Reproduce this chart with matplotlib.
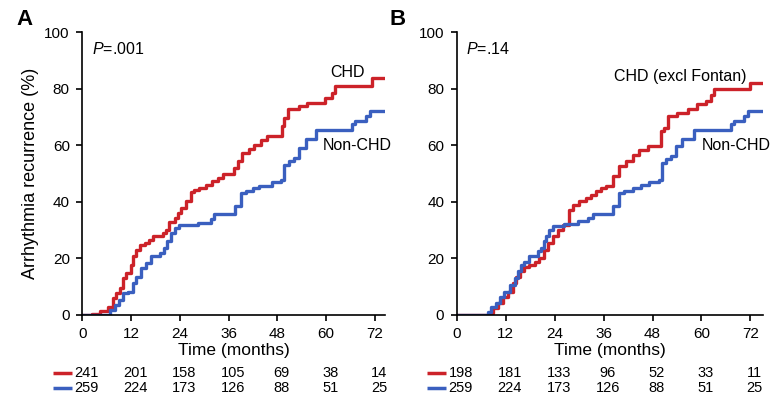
import numpy as np
import matplotlib
matplotlib.use("Agg")
from matplotlib import pyplot as plt
import matplotlib.transforms as mtransforms

plt.rcParams['font.family'] = ['Liberation Sans', 'DejaVu Sans']
plt.rcParams['mathtext.fontset'] = 'custom'
plt.rcParams['mathtext.it'] = 'Liberation Sans:italic'
plt.rcParams['mathtext.rm'] = 'Liberation Sans'

RED = '#cc2229'
BLUE = '#3a5fbf'

# panel A - CHD (months, % recurrence)
chd_a_t = [0, 2.5, 4.3, 6.3, 7.5, 8.4, 9.2, 10.0, 10.8, 12.0, 12.5, 13.3, 14.1, 15.3,
           16.5, 17.4, 19.0, 19.8, 20.6, 21.3, 22.7, 23.5, 24.3, 25.5, 26.8, 27.6,
           28.8, 30.4, 32.0, 33.3, 34.7, 37.4, 38.2, 39.4, 41.0, 42.3, 43.9, 45.5,
           49.2, 49.7, 50.5, 53.3, 55.3, 59.8, 61.5, 62.3, 71.3, 74.5]
chd_a_v = [0, 0.5, 1.4, 3.0, 6.0, 7.8, 9.6, 13.0, 15.0, 17.7, 20.7, 23.0, 24.8, 25.6,
           26.6, 27.8, 28.1, 29.0, 30.0, 33.0, 34.3, 36.0, 37.8, 40.2, 43.4, 44.3,
           44.9, 46.1, 47.3, 48.5, 50.0, 52.0, 54.5, 57.3, 58.8, 60.3, 62.0, 63.2,
           66.8, 69.7, 72.7, 73.9, 75.0, 76.8, 78.6, 81.0, 83.7, 83.7]

# panel A - Non-CHD
non_a_t = [0, 6.8, 8.0, 9.0, 10.0, 11.2, 12.5, 13.3, 14.5, 15.7, 17.0, 19.0, 20.2,
           20.8, 21.9, 22.7, 23.9, 28.4, 31.7, 32.5, 37.6, 39.0, 40.2, 41.9, 43.5,
           46.8, 48.8, 49.6, 50.9, 52.1, 53.3, 55.0, 57.4, 66.4, 67.2, 69.7, 70.9, 74.5]
non_a_v = [0, 1.8, 3.5, 5.3, 7.7, 8.3, 11.2, 13.6, 16.5, 18.3, 20.7, 21.9, 23.6,
           26.0, 29.0, 30.7, 31.9, 32.7, 33.9, 35.6, 38.4, 43.1, 43.7, 44.9, 45.7,
           46.9, 47.9, 53.2, 54.4, 55.6, 59.1, 62.1, 65.6, 67.4, 68.5, 70.3, 72.1, 72.1]

# panel B - CHD excluding Fontan
chd_b_t = [0, 8.1, 8.9, 10.1, 11.3, 12.5, 13.8, 14.6, 15.4, 16.6, 17.8, 19.1, 20.3,
           21.5, 22.3, 23.5, 24.8, 26.0, 27.6, 28.4, 30.1, 31.7, 32.9, 34.2, 35.4,
           36.5, 38.4, 39.9, 41.5, 43.1, 44.7, 46.8, 50.0, 50.9, 51.7, 54.1, 56.6,
           59.0, 61.0, 62.3, 63.1, 72.0, 75.0]
chd_b_v = [0, 0.6, 2.4, 4.1, 6.5, 8.3, 11.2, 13.6, 15.4, 17.1, 17.7, 18.9, 20.1,
           23.0, 25.4, 27.8, 30.1, 31.9, 37.2, 39.0, 40.2, 41.4, 42.6, 43.7, 44.9,
           45.7, 49.0, 52.6, 54.4, 56.7, 58.5, 59.9, 65.0, 66.2, 70.3, 71.5, 72.9,
           74.5, 75.6, 77.7, 79.8, 82.2, 82.2]

# panel B - Non-CHD
non_b_t = [0, 7.7, 8.5, 9.7, 10.5, 11.7, 13.0, 14.2, 15.0, 15.8, 16.6, 17.8, 19.9,
           20.7, 21.3, 21.9, 22.7, 23.5, 26.4, 29.7, 32.1, 33.3, 38.4, 39.9, 41.1,
           43.1, 45.2, 47.2, 49.6, 50.3, 51.3, 52.5, 53.7, 55.3, 58.2, 67.2, 68.0,
           70.4, 71.5, 75.0]
non_b_v = [0, 1.2, 3.0, 4.1, 6.5, 8.3, 10.6, 13.0, 15.4, 17.7, 18.9, 20.7, 22.5,
           23.6, 26.0, 28.0, 30.1, 31.3, 32.3, 33.1, 34.3, 35.8, 38.4, 43.2, 43.7,
           44.9, 46.1, 46.9, 47.9, 53.8, 55.0, 56.1, 59.7, 62.1, 65.6, 67.4, 68.5,
           70.3, 72.1, 72.1]

risk_months = [0, 12, 24, 36, 48, 60, 72]
risk_chd_a = [241, 201, 158, 105, 69, 38, 14]
risk_non_a = [259, 224, 173, 126, 88, 51, 25]
risk_chd_b = [198, 181, 133, 96, 52, 33, 11]
risk_non_b = [259, 224, 173, 126, 88, 51, 25]

fig = plt.figure(figsize=(7.76, 4.01), dpi=100)
axA = fig.add_axes([0.1061, 0.2145, 0.3901, 0.7050])
axB = fig.add_axes([0.5885, 0.2145, 0.3943, 0.7050])


def draw_panel(ax, letter, letter_x, xmax, chd_t, chd_v, non_t, non_v,
               ptext, chd_label, chd_pos, non_pos, risk_chd, risk_non):
    ax.step(chd_t, chd_v, where='post', color=RED, lw=2.4)
    ax.step(non_t, non_v, where='post', color=BLUE, lw=2.4)
    ax.set_xlim(0, xmax)
    ax.set_ylim(0, 100)
    ax.set_xticks(risk_months)
    ax.set_yticks(range(0, 101, 20))
    for s in ['top', 'right']:
        ax.spines[s].set_visible(False)
    for s in ['left', 'bottom']:
        ax.spines[s].set_linewidth(1.2)
    ax.tick_params(direction='out', length=4, width=1.2, labelsize=11, pad=5)
    ax.set_xlabel('Time (months)', fontsize=12.5, labelpad=1)
    ax.text(2.4, 94, ptext, fontsize=11.5, va='center', ha='left')
    ax.text(chd_pos[0], chd_pos[1], chd_label, fontsize=11.5, ha='center', va='center')
    ax.text(non_pos[0], non_pos[1], 'Non-CHD', fontsize=11.5, ha='center', va='center')
    fig.text(letter_x, 0.951, letter, fontsize=16, fontweight='bold', ha='center', va='center')

    # numbers at risk
    trans = mtransforms.blended_transform_factory(ax.transData, ax.transAxes)
    for row_y, nums, col in [(-0.204, risk_chd, RED), (-0.259, risk_non, BLUE)]:
        ax.plot([-7.2, -2.6], [row_y, row_y], color=col, lw=2.5, transform=trans,
                clip_on=False, solid_capstyle='butt')
        for m, n in zip(risk_months, nums):
            ax.text(m + 1.0, row_y, str(n), fontsize=10.5, ha='center', va='center',
                    transform=trans)


draw_panel(axA, 'A', 0.032, 74.5, chd_a_t, chd_a_v, non_a_t, non_a_v,
           '$P$=.001', 'CHD', (65.3, 85.6), (67.6, 60.1), risk_chd_a, risk_non_a)
draw_panel(axB, 'B', 0.512, 75.0, chd_b_t, chd_b_v, non_b_t, non_b_v,
           '$P$=.14', 'CHD (excl Fontan)', (54.7, 84.4), (68.6, 59.8), risk_chd_b, risk_non_b)

axA.set_ylabel('Arrhythmia recurrence (%)', fontsize=13, labelpad=4)

fig.savefig('out.png', dpi=100)
